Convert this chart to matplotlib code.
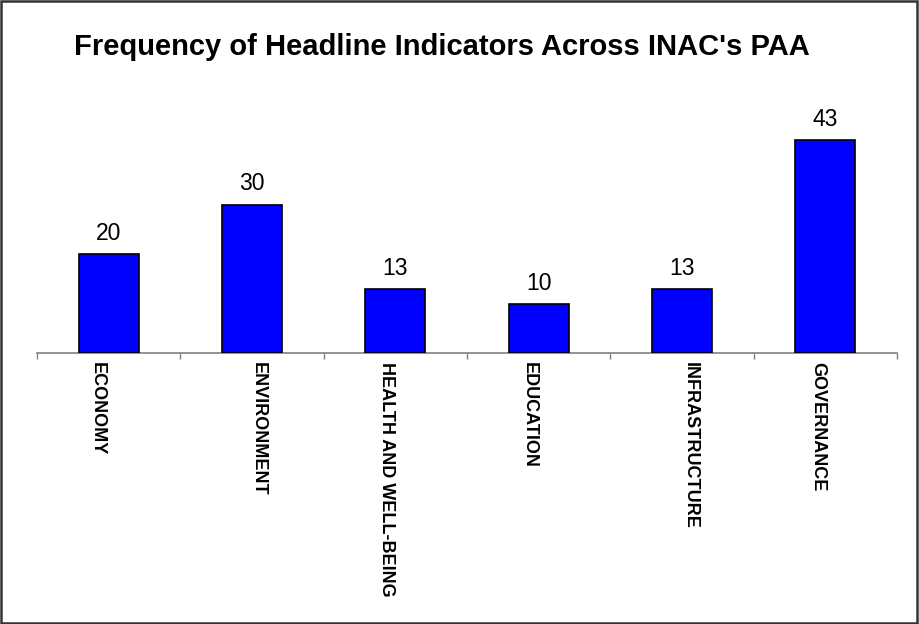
import matplotlib
matplotlib.use("Agg")
import matplotlib.pyplot as plt
from matplotlib.patches import Rectangle
from matplotlib.transforms import ScaledTranslation
import numpy as np

plt.rcParams["font.family"] = ["Liberation Sans", "DejaVu Sans"]

categories = ["ECONOMY", "ENVIRONMENT", "HEALTH AND WELL-BEING", "EDUCATION", "INFRASTRUCTURE", "GOVERNANCE"]
counts = [20, 30, 13, 10, 13, 43]

fig = plt.figure(figsize=(9.2, 6.24), dpi=100)
W, H = 920, 624
# plot area in pixels: x 37..897, baseline at y=353, 50 units tall
ax = fig.add_axes([37 / W, 1 - 353 / H, 860 / W, 247.5 / H])

x = np.arange(len(categories))
ax.bar(x, counts, width=0.42, color="#0000ff", edgecolor="black", linewidth=1.2, zorder=3)
for xi, c in zip(x, counts):
    ax.annotate(str(c), (xi, c), xytext=(0, 14), textcoords="offset pixels",
                ha="center", va="baseline", fontsize=16.5, color="black")

ax.set_xlim(-0.5, len(categories) - 0.5)
ax.set_ylim(0, 50)
ax.set_xticks(x)
ax.set_xticklabels(categories)
ax.set_xticks(np.arange(len(categories) + 1) - 0.5, minor=True)
ax.tick_params(axis="x", which="major", length=0, pad=6.5)
ax.tick_params(axis="x", which="minor", length=4, width=1, color="#808080", direction="out")
ax.set_yticks([])
for s in ["top", "right", "left"]:
    ax.spines[s].set_visible(False)
ax.spines["bottom"].set_color("#808080")
ax.spines["bottom"].set_linewidth(1.2)

# vertical category labels, each nudged a few pixels sideways
nudge_px = [-11, 6, -9, -9, 8, -8]
for lab, dx in zip(ax.get_xticklabels(), nudge_px):
    lab.set_rotation(-90)
    lab.set_fontsize(13)
    lab.set_fontweight("bold")
    lab.set_va("top")
    lab.set_ha("center")
    lab.set_transform(lab.get_transform() + ScaledTranslation(dx / 100, 0, fig.dpi_scale_trans))

fig.text(442 / W, 1 - 55 / H, "Frequency of Headline Indicators Across INAC's PAA",
         ha="center", va="baseline", fontsize=21, fontweight="bold")

# outer frame
fig.patches.append(Rectangle((0.001, 0.002), 0.996, 0.996, transform=fig.transFigure,
                             fill=False, edgecolor="#333333", linewidth=1.8))

fig.savefig("out.png", dpi=100)
